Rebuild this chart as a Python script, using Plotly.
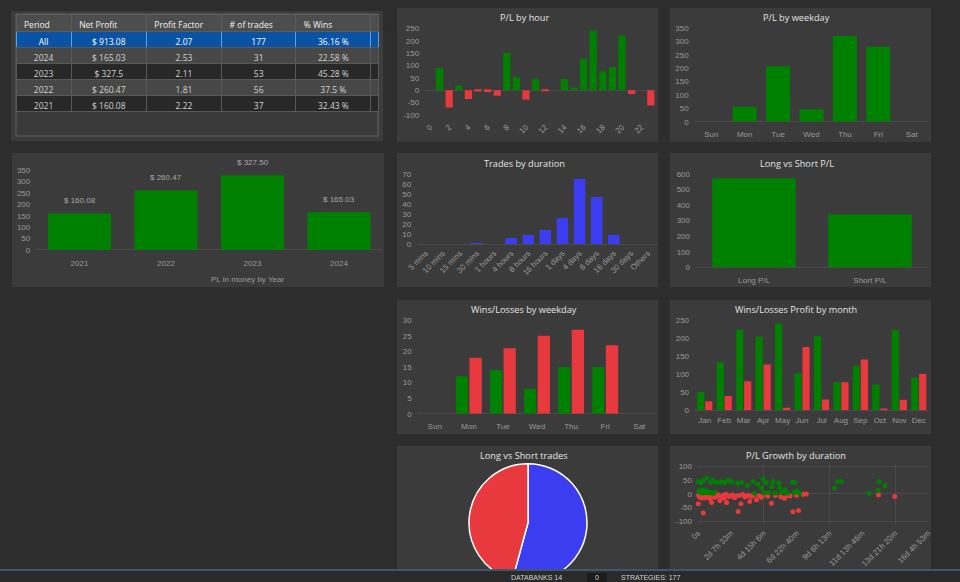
import plotly.graph_objects as go

W, H = 960, 582

# ---------------- data ----------------
table_header = ["Period", "Net Profit", "Profit Factor", "# of trades", "% Wins", ""]
table_period = ["All", "2024", "2023", "2022", "2021"]
table_net_profit = ["$ 913.08", "$ 165.03", "$ 327.5", "$ 260.47", "$ 160.08"]
table_profit_factor = ["2.07", "2.53", "2.11", "1.81", "2.22"]
table_trades = ["177", "31", "53", "56", "37"]
table_wins = ["36.16 %", "22.58 %", "45.28 %", "37.5 %", "32.43 %"]
table_blank = ["", "", "", "", ""]

hours = [0, 1, 2, 3, 4, 5, 6, 7, 8, 9, 10, 11, 12, 13, 14, 15, 16, 17, 18, 19, 20, 21, 22, 23]
hour_pl = [0, 90, -70, 19, -35, -5, -7, -22, 150, 52, -37, 45, -3, 0, 45, 10, 127, 240, 77, 94, 220, -15, 0, -62]
hour_ticks = [0, 2, 4, 6, 8, 10, 12, 14, 16, 18, 20, 22]
hour_yticks = [-100, -50, 0, 50, 100, 150, 200, 250]

weekdays = ["Sun", "Mon", "Tue", "Wed", "Thu", "Fri", "Sat"]
weekday_pl = [0, 56, 208, 47, 321, 281, 0]

years = ["2021", "2022", "2023", "2024"]
year_pl = [160.08, 260.47, 327.50, 165.03]

durations = ["5 mins", "10 mins", "15 mins", "30 mins", "1 hours", "4 hours", "8 hours",
             "16 hours", "1 days", "4 days", "8 days", "16 days", "30 days", "Others"]
duration_trades = [0, 0, 0, 1, 0, 6, 9, 14, 26, 65, 47, 9, 0, 0]

ls_labels = ["Long P/L", "Short P/L"]
ls_pl = [572, 341]

wl_wins = [0, 12, 14, 8, 15, 15, 0]
wl_losses = [0, 18, 21, 25, 27, 22, 0]

months = ["Jan", "Feb", "Mar", "Apr", "May", "Jun", "Jul", "Aug", "Sep", "Oct", "Nov", "Dec"]
month_win_profit = [51, 134, 224, 204, 241, 103, 206, 78, 123, 72, 224, 91]
month_loss_profit = [25, 40, 81, 127, 7, 176, 30, 78, 141, 3, 29, 101]

pie_labels = ["Long", "Short"]
pie_trades = [96, 81]

growth_ticks = [0, 200000, 400000, 600000, 800000, 1000000, 1200000, 1400000]
growth_ticktext = ["0s", "2d 7h 33m", "4d 15h 6m", "6d 22h 40m", "9d 6h 13m",
                   "11d 13h 46m", "13d 21h 20m", "16d 4h 53m"]
growth_yticks = [-100, -50, 0, 50, 100]
win_duration_s = [2000, 18000, 53000, 79000, 113000, 139000, 164000, 184000, 204000, 265000,
                  335000, 365000, 396000, 416000, 456000, 491000, 572000, 588000, 497000, 386000,
                  850000, 871000, 830000, 1103000, 1138000, 1042000, 1097000,
                  5000, 10000, 15000, 20000, 25000, 30000, 35000, 40000, 45000, 50000,
                  60000, 70000, 80000, 90000, 100000,
                  345000, 405000, 430000, 470000, 510000, 545000, 585000, 618000,
                  30000, 90000, 150000, 240000, 300000, 450000, 530000, 600000]
win_pl = [45, 39, 57, 41, 41, 41, 41, 48, 45, 41,
          45, 36, 53, 41, 45, 39, 41, 41, 21, 21,
          45, 45, 21, 45, 29, 2, 12,
          8, 12, 5, 10, 3, 14, 6, 9, 4, 11,
          7, 3, 5, 2, 6,
          2, 3, 5, 2, 6, 2, 4, 2,
          48, 50, 44, 38, 30, 25, 15, 10]
loss_duration_s = [2000, 32000, 83000, 133000, 174000, 244000, 261000, 315000, 356000, 447000,
                   527000, 578000, 612000, 659000, 1099000, 1198000,
                   4000, 9000, 14000, 19000, 24000, 29000, 36000, 42000, 48000, 55000,
                   62000, 68000, 75000, 88000, 95000, 105000, 118000, 126000, 145000, 152000,
                   160000, 170000, 190000, 198000, 210000, 222000, 232000, 250000, 272000, 285000,
                   295000, 305000, 325000, 340000, 372000, 385000, 410000, 425000, 470000, 505000,
                   545000, 560000, 600000, 640000]
loss_pl = [-36, -70, -32, -25, -32, -64, -36, -28, -22, -34,
           -16, -65, -61, -1, -4, -10,
           -5, -12, -3, -8, -15, -6, -10, -2, -14, -7,
           -4, -11, -18, -6, -9, -13, -3, -8, -12, -5,
           -16, -2, -10, -7, -4, -14, -9, -6, -3, -12,
           -8, -5, -10, -4, -7, -13, -3, -9, -6, -11,
           -4, -8, -5, -2]

# ---------------- style ----------------
BG = "#2d2d2d"
PANEL = "#3b3b3b"
GREEN = "#008000"
RED = "#e8393e"
BLUE = "#3c3cf0"
TICKC = "#9a9a9a"
TITLEC = "#e4e4e4"
ZEROC = "#4a4a4a"
GRIDC = "#4a4a4a"
TFONT = "Open Sans"
AFONT = "Liberation Sans"


def cdom(c0, step, n):
    return [(c0 - step / 2) / W, (c0 + (n - 0.5) * step) / W]


def vdom(v1, p1, v2, p2, lo, hi):
    s = (p1 - p2) / (v2 - v1)
    top = p1 - (hi - v1) * s
    bot = p1 + (v1 - lo) * s
    return [1 - bot / H, 1 - top / H]


def px(x):
    return x / W


def py(y):
    return 1 - y / H


tickfont = dict(family=AFONT, size=8, color=TICKC)


def xax(domain, anchor, rng, **kw):
    d = dict(domain=domain, anchor=anchor, range=rng, showgrid=False, zeroline=False,
             showline=False, ticks="", tickfont=tickfont, fixedrange=True, automargin=False)
    d.update(kw)
    return d


def yax(domain, anchor, rng, **kw):
    d = dict(domain=domain, anchor=anchor, range=rng, showgrid=False, zeroline=True,
             zerolinecolor=ZEROC, zerolinewidth=1, showline=False, ticks="",
             tickfont=tickfont, fixedrange=True, ticklabelstandoff=5, automargin=False)
    d.update(kw)
    return d


fig = go.Figure()

# ---- table ----
row_fill = ["#0a52a3", "#474747", "#282828", "#474747", "#282828"]
row_font = ["#ffffff", "#d2d2d2", "#d2d2d2", "#d2d2d2", "#d2d2d2"]
row_line = ["#5a9fe0", "#585858", "#585858", "#585858", "#585858"]
fig.add_trace(go.Table(
    domain=dict(x=[px(16), px(378)], y=[py(136), py(14)]),
    columnwidth=[55, 75, 75, 74, 75, 7],
    header=dict(values=table_header, fill_color="#4d4d4d", line_color="#5c5c5c", line_width=1,
                align="left", height=17, font=dict(family=TFONT, size=8.5, color="#f2f2f2")),
    cells=dict(values=[table_period, table_net_profit, table_profit_factor, table_trades,
                       table_wins, table_blank],
               fill_color=[row_fill] * 6, line_color=[row_line] * 6, line_width=1,
               align="center", height=16,
               font=dict(family=TFONT, size=8.5, color=[row_font] * 6)),
))

# ---- P/L by hour ----
fig.add_trace(go.Bar(x=hours, y=hour_pl, width=0.75,
                     marker=dict(color=[GREEN if v >= 0 else RED for v in hour_pl], line_width=0),
                     xaxis="x", yaxis="y", hoverinfo="skip"))
# ---- P/L by weekday ----
fig.add_trace(go.Bar(x=weekdays, y=weekday_pl, width=0.72, marker=dict(color=GREEN, line_width=0),
                     xaxis="x2", yaxis="y2", hoverinfo="skip"))
# ---- year ----
fig.add_trace(go.Bar(x=years, y=year_pl, width=0.73, marker=dict(color=GREEN, line_width=0),
                     xaxis="x3", yaxis="y3", hoverinfo="skip"))
# ---- trades by duration ----
fig.add_trace(go.Bar(x=durations, y=duration_trades, width=0.68, marker=dict(color=BLUE, line_width=0),
                     xaxis="x4", yaxis="y4", hoverinfo="skip"))
# ---- long vs short P/L ----
fig.add_trace(go.Bar(x=ls_labels, y=ls_pl, width=0.72, marker=dict(color=GREEN, line_width=0),
                     xaxis="x5", yaxis="y5", hoverinfo="skip"))
# ---- wins/losses by weekday ----
fig.add_trace(go.Bar(x=weekdays, y=wl_wins, width=0.36, offset=-0.38,
                     marker=dict(color=GREEN, line_width=0), xaxis="x6", yaxis="y6", hoverinfo="skip"))
fig.add_trace(go.Bar(x=weekdays, y=wl_losses, width=0.36, offset=0.02,
                     marker=dict(color=RED, line_width=0), xaxis="x6", yaxis="y6", hoverinfo="skip"))
# ---- wins/losses profit by month ----
fig.add_trace(go.Bar(x=months, y=month_win_profit, width=0.37, offset=-0.39,
                     marker=dict(color=GREEN, line_width=0), xaxis="x7", yaxis="y7", hoverinfo="skip"))
fig.add_trace(go.Bar(x=months, y=month_loss_profit, width=0.37, offset=0.02,
                     marker=dict(color=RED, line_width=0), xaxis="x7", yaxis="y7", hoverinfo="skip"))
# ---- pie ----
fig.add_trace(go.Pie(labels=pie_labels, values=pie_trades, sort=False, direction="clockwise",
                     rotation=0, textinfo="none", hoverinfo="skip", automargin=False,
                     marker=dict(colors=[BLUE, RED], line=dict(color="#ffffff", width=1.5)),
                     domain=dict(x=[px(469), px(587)], y=[py(581.7), py(463.7)])))
# ---- P/L growth by duration ----
fig.add_trace(go.Scatter(x=loss_duration_s, y=loss_pl, mode="markers", cliponaxis=False,
                         marker=dict(color=RED, size=5, line_width=0),
                         xaxis="x8", yaxis="y8", hoverinfo="skip"))
fig.add_trace(go.Scatter(x=win_duration_s, y=win_pl, mode="markers", cliponaxis=False,
                         marker=dict(color=GREEN, size=5, line_width=0),
                         xaxis="x8", yaxis="y8", hoverinfo="skip"))
fig.add_trace(go.Scatter(x=[], y=[], mode="markers", xaxis="x9", yaxis="y9", hoverinfo="skip"))

lay = dict(
    width=W, height=H, autosize=False, margin=dict(l=0, r=0, t=0, b=0, pad=0, autoexpand=False),
    paper_bgcolor=BG, plot_bgcolor="rgba(0,0,0,0)", showlegend=False,
    barmode="overlay",
)

# axes
lay["xaxis"] = xax(cdom(430, 9.6, 24), "y", [-0.5, 23.5], tickvals=hour_ticks, tickangle=-45,
                   ticklabelstandoff=3)
lay["yaxis"] = yax(vdom(250, 28.3, -100, 115, -108, 258), "x", [-108, 258], tickvals=hour_yticks,
                   ticktext=[str(v) for v in hour_yticks])
lay["xaxis2"] = xax(cdom(711.3, 33.4, 7), "y2", [-0.5, 6.5], type="category", ticklabelstandoff=6)
lay["yaxis2"] = yax(vdom(0, 121.7, 350, 28.3, 0, 358), "x2", [0, 358], dtick=50)
lay["xaxis3"] = xax(cdom(79.5, 86.5, 4), "y3", [-0.5, 3.5], type="category", ticklabelstandoff=7)
lay["yaxis3"] = yax(vdom(0, 250, 350, 170, 0, 355), "x3", [0, 355], dtick=50)
lay["xaxis4"] = xax(cdom(425.7, 17.1, 14), "y4", [-0.5, 13.5], type="category", tickangle=-45,
                    ticklabelstandoff=2)
lay["yaxis4"] = yax(vdom(0, 244, 70, 174, 0, 72), "x4", [0, 72], dtick=10)
lay["xaxis5"] = xax(cdom(754, 116, 2), "y5", [-0.5, 1.5], type="category", ticklabelstandoff=7)
lay["yaxis5"] = yax(vdom(0, 267.3, 600, 174, 0, 615), "x5", [0, 615], dtick=100)
lay["xaxis6"] = xax(cdom(434.7, 34.1, 7), "y6", [-0.5, 6.5], type="category", ticklabelstandoff=6)
lay["yaxis6"] = yax(vdom(0, 413.7, 30, 320.3, 0, 31), "x6", [0, 31], dtick=5)
lay["xaxis7"] = xax(cdom(704.8, 19.45, 12), "y7", [-0.5, 11.5], type="category", ticklabelstandoff=4)
lay["yaxis7"] = yax(vdom(0, 410.3, 250, 320.3, 0, 258), "x7", [0, 258], dtick=50)
g_xdom = [px(698), px(928)]
g_ydom = vdom(100, 466.3, -100, 521.3, -110, 110)
lay["xaxis8"] = xax(g_xdom, "y8", [0, 1400000], showgrid=True, gridcolor=GRIDC, gridwidth=1,
                    tick0=0, dtick=400000, showticklabels=False)
lay["yaxis8"] = yax(g_ydom, "x8", [-110, 110], zeroline=False, showgrid=True, gridcolor=GRIDC,
                    gridwidth=1, tick0=0, dtick=100, showticklabels=False)
lay["xaxis9"] = xax(g_xdom, "y9", [0, 1400000], overlaying="x8", tickvals=growth_ticks,
                    ticktext=growth_ticktext, tickangle=-45, ticklabelstandoff=2)
lay["yaxis9"] = yax(g_ydom, "x9", [-110, 110], overlaying="y8", zeroline=False,
                    tickvals=growth_yticks, ticktext=[str(v) for v in growth_yticks])

# panels
shapes = []
panels = [(11, 11, 383, 141), (12, 153, 384, 287)]
for cx0, cx1 in [(397, 658), (670, 931)]:
    for ry0, ry1 in [(8, 142), (153, 287), (300, 434), (446, 582)]:
        panels.append((cx0, ry0, cx1, ry1))
for x0, y0, x1, y1 in panels:
    shapes.append(dict(type="rect", xref="paper", yref="paper", x0=px(x0), x1=px(x1),
                       y0=py(y1), y1=py(y0), fillcolor=PANEL, line_width=0, layer="below"))
shapes.append(dict(type="rect", xref="paper", yref="paper", x0=px(16), x1=px(378),
                   y0=py(136), y1=py(14), fillcolor="#393939",
                   line=dict(color="#626262", width=1), layer="below"))
# bottom status bar
shapes.append(dict(type="rect", xref="paper", yref="paper", x0=0, x1=1, y0=0, y1=py(569),
                   fillcolor="#2a2a2a", line_width=0, layer="above"))
shapes.append(dict(type="line", xref="paper", yref="paper", x0=0, x1=1, y0=py(570), y1=py(570),
                   line=dict(color="#3f5670", width=2), layer="above"))
shapes.append(dict(type="rect", xref="paper", yref="paper", x0=px(587), x1=px(607), y0=0,
                   y1=py(573), fillcolor="#1c1c1c", line_width=0, layer="above"))
lay["shapes"] = shapes

ann = []
titles = [("P/L by hour", 524, 17), ("P/L by weekday", 796, 17),
          ("Trades by duration", 524, 163), ("Long vs Short P/L", 797, 163),
          ("Wins/Losses by weekday", 524, 309), ("Wins/Losses Profit by month", 796, 309),
          ("Long vs Short trades", 524, 455), ("P/L Growth by duration", 796, 455)]
for t, x, y in titles:
    ann.append(dict(text=t, x=px(x), y=py(y), xref="paper", yref="paper", showarrow=False,
                    xanchor="center", yanchor="middle",
                    font=dict(family=TFONT, size=9.2, color=TITLEC)))
for i, v in enumerate(year_pl):
    ann.append(dict(text=f"$ {v:.2f}", x=i, y=v, xref="x3", yref="y3", showarrow=False,
                    yanchor="bottom", yshift=6, font=dict(family=AFONT, size=8, color="#a8a8a8")))
ann.append(dict(text="PL in money by Year", x=px(209), y=py(279), xref="paper", yref="paper",
                showarrow=False, font=dict(family=AFONT, size=8, color=TICKC)))
for t, x in [("DATABANKS 14", 536), ("0", 597), ("STRATEGIES: 177", 650)]:
    ann.append(dict(text=t, x=px(x), y=py(582), xref="paper", yref="paper", showarrow=False,
                    xanchor="center", yanchor="bottom", borderpad=0,
                    font=dict(family=AFONT, size=7, color="#d0d0d0")))
lay["annotations"] = ann

fig.update_layout(**lay)

post = "document.body.style.margin='0';document.body.style.overflow='hidden';"
fig.write_html("out.html", config={"displayModeBar": False}, post_script=post)
